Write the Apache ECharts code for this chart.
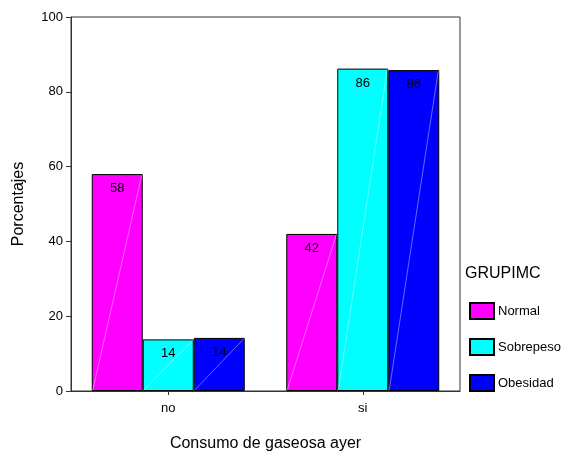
<!DOCTYPE html>
<html>
<head>
<meta charset="utf-8">
<script src="https://cdn.jsdelivr.net/npm/echarts@6/dist/echarts.min.js"></script>
<style>html,body{margin:0;padding:0;background:#fff;}#c{width:563px;height:457px;}</style>
</head>
<body>
<div id="c"></div>
<script>
const categories = ['no', 'si'];
const seriesNames = ['Normal', 'Sobrepeso', 'Obesidad'];
const normal = [58.0, 42.0];
const sobrepeso = [13.8, 86.2];
const obesidad = [14.2, 85.8];
const yTicks = [0, 20, 40, 60, 80, 100];

const colors = ['#FF00FF', '#00FFFF', '#0000FF'];
const values = [normal, sobrepeso, obesidad];
const BW = 51;
const FONT = '"Liberation Sans", Arial, sans-serif';

const chart = echarts.init(document.getElementById('c'), null, {renderer: 'canvas'});

const barSeries = seriesNames.map((name, i) => ({
  name: name,
  type: 'bar',
  data: values[i],
  barWidth: BW,
  barGap: '0%',
  itemStyle: {color: colors[i], borderColor: '#000', borderWidth: 1},
  label: {
    show: true, position: 'insideTop', distance: 8,
    formatter: p => Math.round(p.value).toString(),
    color: '#000', fontSize: 13, fontFamily: FONT
  },
  emphasis: {disabled: true},
  z: 2
}));

const diagData = [];
values.forEach((arr, s) => arr.forEach((v, c) => diagData.push([c, v, s])));

const diagSeries = {
  name: 'diag',
  type: 'custom',
  data: diagData,
  z: 3,
  silent: true,
  renderItem: function (params, api) {
    const top = api.coord([api.value(0), api.value(1)]);
    const base = api.coord([api.value(0), 0]);
    const x0 = top[0] + (api.value(2) - 1) * BW - BW / 2 + 1;
    return {
      type: 'line',
      shape: {x1: x0, y1: base[1] - 1, x2: x0 + BW - 2, y2: top[1] + 1},
      style: {stroke: 'rgba(255,255,255,0.4)', lineWidth: 1}
    };
  }
};

chart.setOption({
  animation: false,
  backgroundColor: '#fff',
  textStyle: {fontFamily: FONT},
  grid: {left: 71, top: 17, right: 103, bottom: 64, show: true, borderColor: '#333', borderWidth: 1},
  title: {
    text: 'GRUPIMC', left: 460, top: 261,
    textStyle: {fontSize: 16, fontWeight: 'normal', color: '#000', fontFamily: FONT}
  },
  legend: {
    data: seriesNames,
    orient: 'vertical',
    left: 464, top: 297,
    itemWidth: 24, itemHeight: 16, itemGap: 18,
    icon: 'rect',
    textStyle: {fontSize: 13, color: '#000', fontFamily: FONT, padding: [0, 0, 0, -1]},
    selectedMode: false
  },
  xAxis: {
    type: 'category',
    data: categories,
    name: 'Consumo de gaseosa ayer',
    nameLocation: 'middle',
    nameGap: 45,
    nameTextStyle: {fontSize: 16, color: '#000', fontFamily: FONT},
    axisLine: {show: true, lineStyle: {color: '#333', width: 1}},
    axisTick: {show: true, alignWithLabel: true, length: 4, lineStyle: {color: '#333'}},
    axisLabel: {fontSize: 13, color: '#000', margin: 11, fontFamily: FONT},
    splitLine: {show: false}
  },
  yAxis: {
    type: 'value',
    min: 0, max: 100, interval: 20,
    name: 'Porcentajes',
    nameLocation: 'middle',
    nameGap: 44,
    nameRotate: 90,
    nameTextStyle: {fontSize: 16, color: '#000', fontFamily: FONT},
    axisLine: {show: true, lineStyle: {color: '#333', width: 1}},
    axisTick: {show: true, length: 5, lineStyle: {color: '#333'}},
    axisLabel: {
      fontSize: 13, color: '#000', margin: 8, fontFamily: FONT,
      formatter: v => yTicks.includes(v) ? String(v) : ''
    },
    splitLine: {show: false}
  },
  series: barSeries.concat([diagSeries])
});
</script>
</body>
</html>
